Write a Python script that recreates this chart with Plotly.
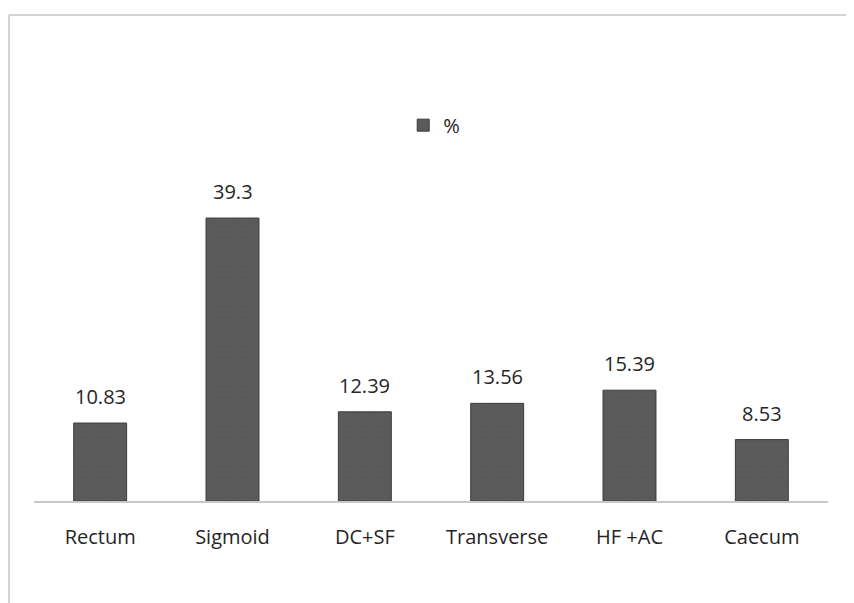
import plotly.graph_objects as go

categories = ["Rectum", "Sigmoid", "DC+SF", "Transverse", "HF +AC", "Caecum"]
values = [10.83, 39.3, 12.39, 13.56, 15.39, 8.53]
value_labels = ["10.83", "39.3", "12.39", "13.56", "15.39", "8.53"]
series_name = "%"

fig = go.Figure()
fig.add_trace(go.Bar(
    x=categories, y=values, name=series_name,
    marker=dict(color="#5a5a5a", line=dict(color="#3c3c3c", width=1),
                pattern=dict(shape=".", fgcolor="#6e5a64", bgcolor="#5a5a5a",
                             size=5, solidity=0.15)),
    showlegend=True,
))

for c, v, t in zip(categories, values, value_labels):
    fig.add_annotation(x=c, y=v, text=t, showarrow=False, yanchor="bottom",
                       yshift=11, font=dict(size=20, color="#262626"))

# outer frame lines
fig.add_shape(type="line", xref="paper", yref="paper", x0=-0.0315, x1=1.05, y0=1.5, y1=1.5,
              line=dict(color="#d4d4d4", width=2))
fig.add_shape(type="line", xref="paper", yref="paper", x0=-0.0315, x1=-0.0315, y0=1.5, y1=-0.35,
              line=dict(color="#d4d4d4", width=2))

fig.update_layout(
    width=854, height=603,
    margin=dict(l=26, r=34, t=169, b=110),
    plot_bgcolor="white", paper_bgcolor="white",
    font=dict(family="Open Sans, Liberation Sans, sans-serif", size=20, color="#262626"),
    bargap=0.6,
    legend=dict(x=0.465, y=1.16, xanchor="left", yanchor="middle",
                orientation="h", font=dict(size=20, color="#262626"),
                bgcolor="rgba(0,0,0,0)"),
    xaxis=dict(showline=True, linecolor="#c8c8c8", linewidth=2, showgrid=False,
               ticks="", ticklabelstandoff=17, tickfont=dict(size=20, color="#262626")),
    yaxis=dict(range=[0, 45], visible=False, showgrid=False),
)

fig.write_html("out.html")
